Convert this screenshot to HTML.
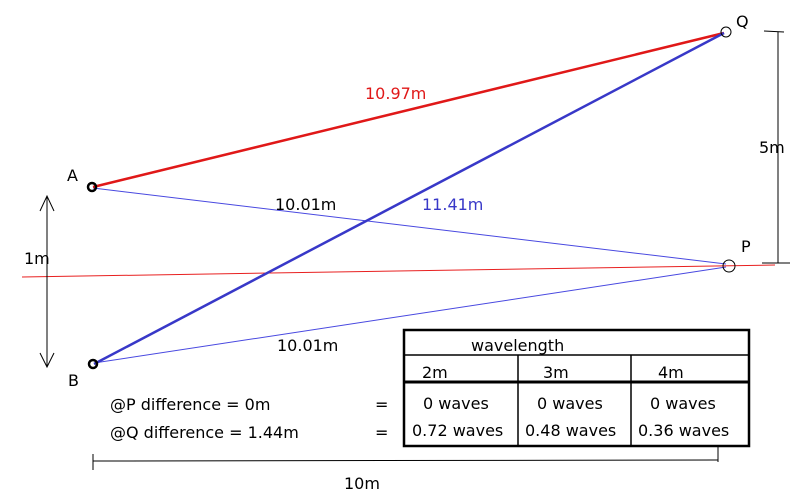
<!DOCTYPE html>
<html><head><style>body{margin:0;background:#fff}svg{display:block}text{font-family:"DejaVu Sans","Liberation Sans",sans-serif;font-size:16px;fill:#000}</style></head>
<body><svg width="800" height="500" viewBox="0 0 800 500">
<rect width="800" height="500" fill="#fff"/>
<line x1="22" y1="277" x2="775" y2="265" stroke="#e82020" stroke-width="1"/>
<line x1="93" y1="188" x2="726" y2="264" stroke="#4848e0" stroke-width="1"/>
<line x1="94" y1="363" x2="726" y2="267" stroke="#4848e0" stroke-width="1"/>
<line x1="93" y1="187" x2="724" y2="33" stroke="#e01818" stroke-width="2.5"/>
<line x1="94" y1="364" x2="724" y2="33" stroke="#3838c8" stroke-width="2.5"/>
<circle cx="92" cy="187" r="4" fill="none" stroke="#000" stroke-width="2.5"/>
<circle cx="93" cy="364" r="4" fill="none" stroke="#000" stroke-width="2.5"/>
<circle cx="726" cy="32" r="5" fill="none" stroke="#000" stroke-width="1"/>
<circle cx="729" cy="266" r="6" fill="none" stroke="#000" stroke-width="1"/>
<g stroke="#000" fill="none" stroke-width="1">
<line x1="47" y1="196" x2="47" y2="367"/>
<polyline points="40,211 47,196 54,211"/>
<polyline points="40,353 47,367 54,353"/>
<line x1="778" y1="32" x2="778" y2="263"/>
<line x1="764" y1="31" x2="784" y2="32"/>
<line x1="762" y1="263" x2="790" y2="263"/>
<line x1="93" y1="461" x2="718" y2="460"/>
<line x1="93" y1="454" x2="93" y2="470"/>
<line x1="718" y1="447" x2="718" y2="462"/>
</g>
<g stroke="#000" fill="none">
<rect x="404" y="330" width="345" height="116" stroke-width="2.5"/>
<line x1="404" y1="355" x2="749" y2="355" stroke-width="1.5"/>
<line x1="404" y1="382" x2="749" y2="382" stroke-width="3"/>
<line x1="518" y1="355" x2="518" y2="446" stroke-width="1.5"/>
<line x1="631" y1="355" x2="631" y2="446" stroke-width="1.5"/>
</g>
<text x="471" y="351">wavelength</text>
<text x="422" y="378">2m</text><text x="543" y="378">3m</text><text x="658" y="378">4m</text>
<text x="423" y="409">0 waves</text><text x="537" y="409">0 waves</text><text x="650" y="409">0 waves</text>
<text x="412" y="436">0.72 waves</text><text x="525" y="436">0.48 waves</text><text x="638" y="436">0.36 waves</text>
<text x="110" y="410">@P difference = 0m</text>
<text x="110" y="438">@Q difference = 1.44m</text>
<text x="375" y="410">=</text><text x="375" y="438">=</text>
<text x="344" y="489">10m</text>
<text x="365" y="99" style="fill:#e01818">10.97m</text>
<text x="275" y="210">10.01m</text>
<text x="422" y="210" style="fill:#3838c8">11.41m</text>
<text x="277" y="351">10.01m</text>
<text x="24" y="264">1m</text>
<text x="759" y="153">5m</text>
<text x="67" y="181">A</text>
<text x="68" y="386">B</text>
<text x="736" y="27">Q</text>
<text x="741" y="252">P</text>
</svg></body></html>
